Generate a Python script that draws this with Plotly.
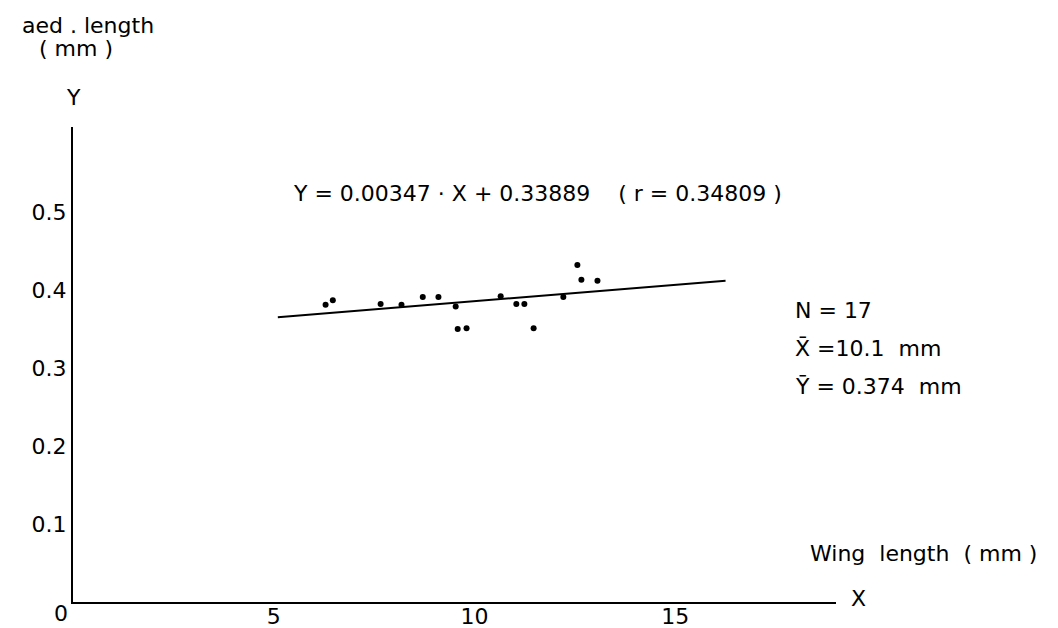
import plotly.graph_objects as go

# Data
wing_length = [6.29, 6.47, 7.66, 8.18, 8.71, 9.10, 9.53, 9.58, 9.80,
               10.65, 11.04, 11.24, 11.47, 12.21, 12.56, 12.66, 13.06]
aed_length = [0.381, 0.387, 0.382, 0.381, 0.391, 0.391, 0.379, 0.350, 0.351,
              0.392, 0.382, 0.382, 0.351, 0.391, 0.432, 0.413, 0.412]
fit_x = [5.1, 16.25]
fit_y = [0.365, 0.412]
x_ticks = [5, 10, 15]
y_ticks = [0.1, 0.2, 0.3, 0.4, 0.5]
y_tick_text = ["0.1", "0.2", "0.3", "0.4", "0.5"]

FONT = "DejaVu Sans"
FS = 22
W, H = 1058, 628
L, R, T, B = 73, 222, 127, 26
pw, ph = W - L - R, H - T - B


def px(xp):
    return (xp - L) / pw


def py(yp):
    return (H - B - yp) / ph


fig = go.Figure()
fig.add_trace(go.Scatter(x=fit_x, y=fit_y, mode="lines",
                         line=dict(color="black", width=2), hoverinfo="skip"))
fig.add_trace(go.Scatter(x=wing_length, y=aed_length, mode="markers",
                         marker=dict(color="black", size=6)))

annots = [
    dict(x=px(537), y=py(193), text="Y = 0.00347 · X + 0.33889    ( r = 0.34809 )"),
    dict(x=px(88), y=py(25), text="aed . length"),
    dict(x=px(76), y=py(48), text="( mm )"),
    dict(x=px(73), y=py(98), text="Y"),
    dict(x=px(61), y=py(613), text="0"),
    dict(x=px(858), y=py(598), text="X"),
    dict(x=px(923), y=py(553), text="Wing  length  ( mm )"),
    dict(x=px(793), y=py(310), text="N = 17", xanchor="left"),
    dict(x=px(793), y=py(348), text="X\u0304 =10.1  mm", xanchor="left"),
    dict(x=px(793), y=py(387), text="Y\u0304 = 0.374  mm", xanchor="left"),
]
for a in annots:
    fig.add_annotation(x=a["x"], y=a["y"], xref="paper", yref="paper",
                       text=a["text"], showarrow=False,
                       xanchor=a.get("xanchor", "center"), yanchor="middle",
                       font=dict(family=FONT, size=FS, color="black"))

fig.update_layout(
    width=W, height=H,
    margin=dict(l=L, r=R, t=T, b=B, autoexpand=False),
    paper_bgcolor="white", plot_bgcolor="white",
    showlegend=False,
    font=dict(family=FONT, size=FS, color="black"),
    xaxis=dict(range=[0, 19], showgrid=False, zeroline=False,
               showline=True, linecolor="black", linewidth=2,
               tickvals=x_ticks, ticks="", tickfont=dict(size=FS),
               ticklabelstandoff=-6, automargin=False),
    yaxis=dict(range=[0, 0.609], showgrid=False, zeroline=False,
               showline=True, linecolor="black", linewidth=2,
               tickvals=y_ticks, ticktext=y_tick_text, ticks="",
               tickfont=dict(size=FS), automargin=False),
)

fig.write_html("out.html",
               config={"displayModeBar": False},
               post_script="document.body.style.margin='0';"
                           "document.body.style.overflow='hidden';")
